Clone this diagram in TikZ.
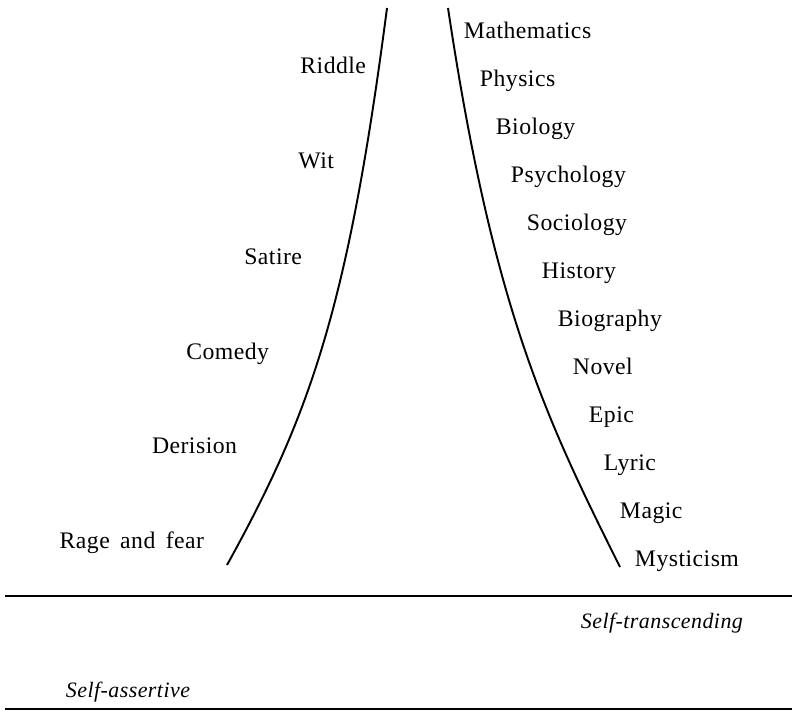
\documentclass[tikz,border=0pt]{standalone}
\usepackage{fontspec}
\setmainfont{Liberation Serif}[LetterSpace=2]

\tikzset{
	field/.style={anchor=base west,inner sep=0pt,font=\fontsize{13.5}{16}\selectfont},
	urge/.style={anchor=base east,inner sep=0pt,font=\fontsize{13.5}{16}\selectfont},
	tendency/.style={anchor=base west,inner sep=0pt,font=\fontsize{12.5}{15}\selectfont\itshape},
}

\begin{document}
\begin{tikzpicture}[x=0.02cm,y=-0.02cm,line width=1.1pt]
				\useasboundingbox (0,0) rectangle (797,711);

				% the two flanks of the funnel
				\draw (387,8) .. controls (348,308) and (310,415) .. (227,565);
				\draw (448,8) .. controls (493,308) and (545,417) .. (620,567);

				% base lines
				\draw (5,596) -- (792,596);
				\draw (5,709) -- (792,709);

				% left side
				\node[urge] (riddle) at (367,73) {Riddle};
				\node[urge] (wit) at (335,168) {Wit};
				\node[urge] (satire) at (303,264) {Satire};
				\node[urge] (comedy) at (270,359) {Comedy};
				\node[urge] (derision) at (238,453) {Derision};
				\node[urge] (rage) at (205,548) {Rage\, and\, fear};

				% right side
				\node[field] (math) at (463,38) {Mathematics};
				\node[field] (phys) at (479,86) {Physics};
				\node[field] (bio) at (495,134) {Biology};
				\node[field] (psych) at (510,182) {Psychology};
				\node[field] (socio) at (526,230) {Sociology};
				\node[field] (hist) at (541,278) {History};
				\node[field] (biogr) at (557,326) {Biography};
				\node[field] (novel) at (572,374) {Novel};
				\node[field] (epic) at (588,422) {Epic};
				\node[field] (lyric) at (603,470) {Lyric};
				\node[field] (magic) at (619,518) {Magic};
				\node[field] (myst) at (634,566) {Mysticism};

				\node[tendency] (transc) at (580,628) {Self-transcending};
				\node[tendency] (assert) at (65,697) {Self-assertive};
			\end{tikzpicture}
\end{document}
